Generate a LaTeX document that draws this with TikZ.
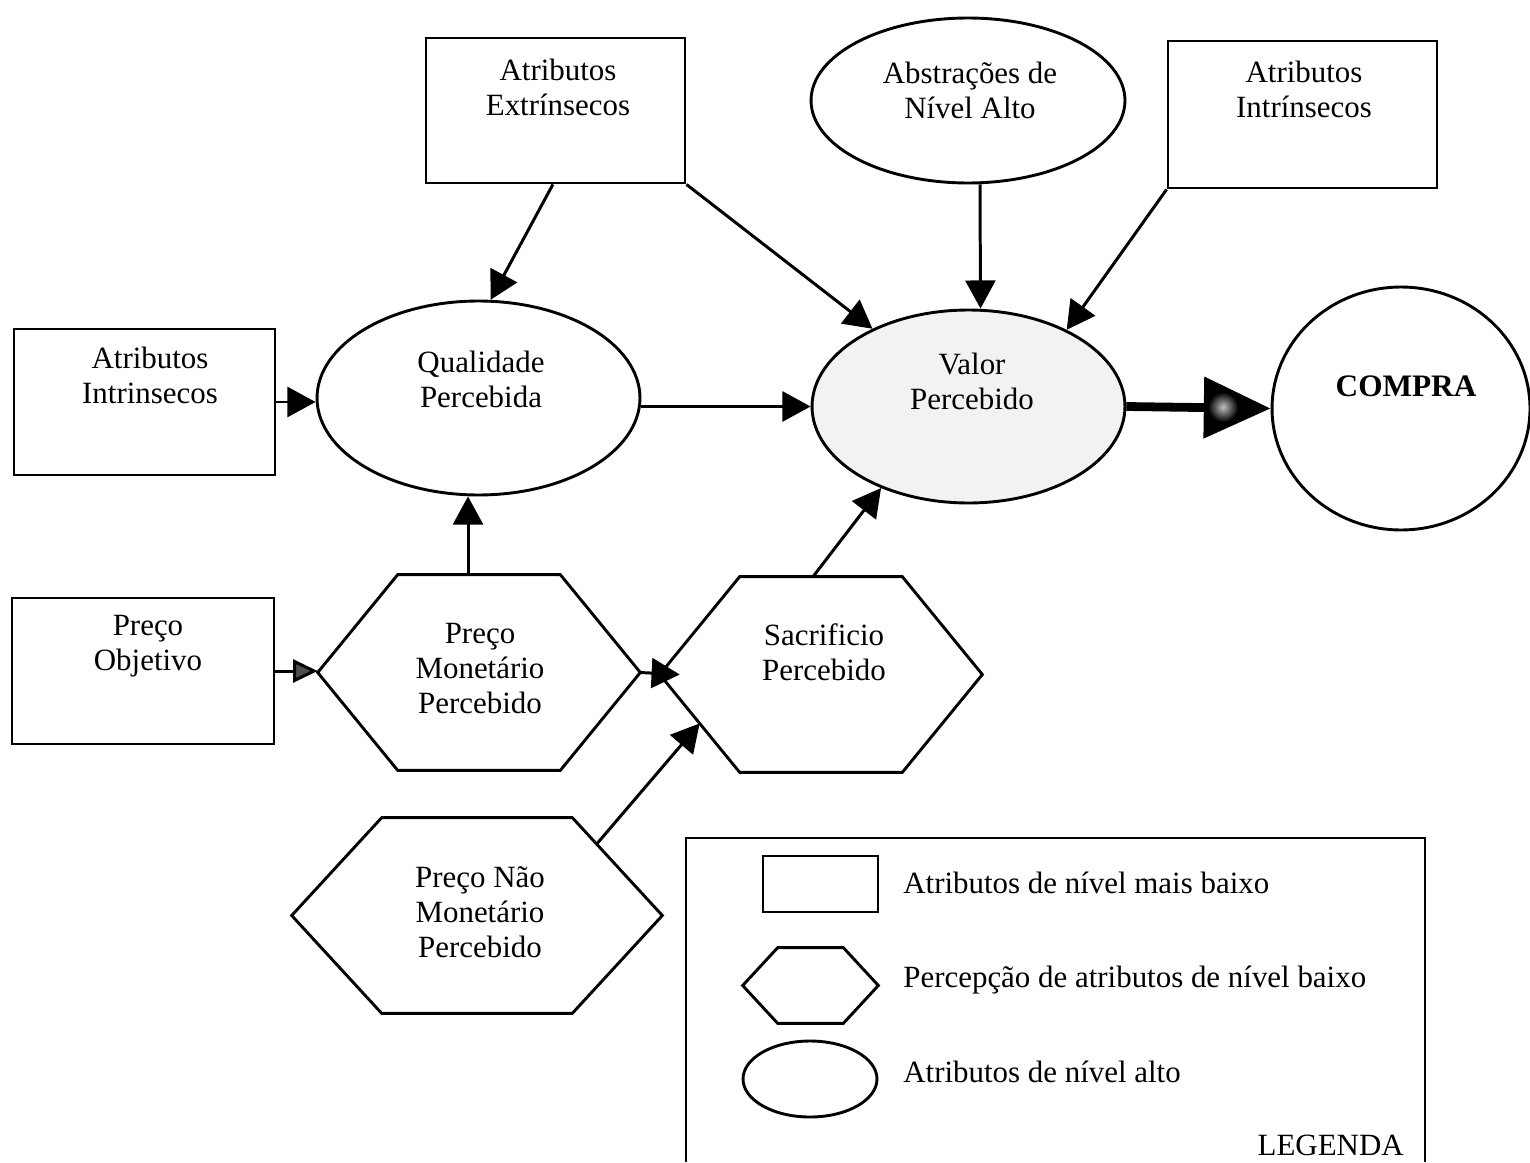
\documentclass[tikz,border=0pt]{standalone}
\usepackage{fontspec}
\setmainfont{Liberation Serif}
\usetikzlibrary{arrows.meta,shapes.geometric,calc}

% outline of a flattened hexagon drawn over an invisible rectangular node
\newcommand\hexoutline[2]{%
  \draw[shapeline] (#1.west) -- ([xshift=#2]#1.north west) -- ([xshift=-#2]#1.north east)
    -- (#1.east) -- ([xshift=-#2]#1.south east) -- ([xshift=#2]#1.south west) -- cycle;}

\begin{document}
\begin{tikzpicture}[x=0.02cm,y=-0.02cm,
  lbl/.style={font=\fontsize{17.6}{19.9}\selectfont, align=center, inner sep=0pt},
  shapeline/.style={line width=1.65pt, line join=miter},
  boxnode/.style={draw, shapeline, rectangle, inner sep=0pt},
  ovalnode/.style={draw, shapeline, ellipse, inner sep=0pt},
  hexarea/.style={rectangle, inner sep=0pt},
  link/.style={line width=1.7pt, -{Triangle[length=16pt,width=17pt]}},
  pricelink/.style={line width=1.7pt, -{Triangle[length=14pt,width=13pt,fill=black!70]}},
  buylink/.style={line width=5pt, -{Triangle[length=38pt,width=34pt]}}
]
\useasboundingbox (0,0) rectangle (1530,1162);

% ---------- lower-level attributes (boxes) ----------
\node[boxnode, minimum width=5.18cm, minimum height=2.9cm]  (ext) at (555.5,110.5) {};
\node[boxnode, minimum width=5.38cm, minimum height=2.94cm] (itr) at (1302.5,114.5) {};
\node[boxnode, minimum width=5.22cm, minimum height=2.92cm] (il)  at (144.5,402) {};
\node[boxnode, minimum width=5.24cm, minimum height=2.92cm] (po)  at (143,671) {};

% ---------- high-level attributes (ellipses) ----------
\node[ovalnode, minimum width=6.28cm, minimum height=3.3cm]  (abs)  at (968,100.5) {};
\node[ovalnode, minimum width=6.46cm, minimum height=3.88cm] (qual) at (478.5,398) {};
\node[ovalnode, fill=gray!10, minimum width=6.26cm, minimum height=3.86cm] (val) at (968.5,406.5) {};
\node[ovalnode, minimum width=5.16cm, minimum height=4.86cm] (compra) at (1401,408.5) {};

% ---------- perceptions (hexagons) ----------
\node[hexarea, minimum width=6.44cm, minimum height=3.9cm] (pm)  at (479,672.5) {};
\node[hexarea, minimum width=6.44cm, minimum height=3.9cm] (sac) at (821,674.5) {};
\node[hexarea, minimum width=7.4cm,  minimum height=3.9cm] (pnm) at (477,915.5) {};
\hexoutline{pm}{1.6cm}
\hexoutline{sac}{1.6cm}
\hexoutline{pnm}{1.8cm}

% ---------- labels ----------
\node[lbl] (ext-t)  at (558,87)     {Atributos\\Extrínsecos};
\node[lbl] (itr-t)  at (1304,89)    {Atributos\\Intrínsecos};
\node[lbl] (il-t)   at (150,375.5)  {Atributos\\Intrinsecos};
\node[lbl] (po-t)   at (148,646)    {Preço\\Objetivo};
\node[lbl] (abs-t)  at (970,90.5)   {Abstrações de\\Nível Alto};
\node[lbl] (qual-t) at (481,379)    {Qualidade\\Percebida};
\node[lbl] (val-t)  at (972,381.5)  {Valor\\Percebido};
\node[lbl, font=\fontsize{17.8}{20}\selectfont\bfseries] (compra-t) at (1406,386) {COMPRA};
\node[lbl] (pm-t)   at (480,668.5)  {Preço\\Monetário\\Percebido};
\node[lbl] (sac-t)  at (824,652.5)  {Sacrif\kern0pt icio\\Percebido};
\node[lbl] (pnm-t)  at (480,912.5)  {Preço Não\\Monetário\\Percebido};

% ---------- connectors ----------
\coordinate (extout) at ($(ext.south west)!0.49!(ext.south east)$);
\draw[link] (extout) -- (qual.83);
\draw[link] (ext.south east) -- (val.141);
\draw[link] ([xshift=0.24cm]abs.south) -- ([xshift=0.24cm]val.north);
\draw[link] (itr.south west) -- (val.38);
\draw[link] (il.east) -- (il.east -| qual.west);
\draw[link] (qual.east |- val.west) -- (val.west);
\coordinate (pmtop) at ([xshift=-0.22cm]pm.north);
\draw[link] (pmtop) -- (pmtop |- qual.south);
\draw[pricelink] (po.east) -- (po.east -| pm.west);
\draw[link] (pm.east) -- ([xshift=0.4cm]sac.west);
\coordinate (pnmout) at ($([xshift=-1.8cm]pnm.north east)!0.27!(pnm.east)$);
\coordinate (sacin) at ($(sac.west)!0.5!([xshift=1.6cm]sac.south west)$);
\draw[link] (pnmout) -- (sacin);
\draw[link] ([xshift=-0.16cm]sac.north) -- (val.223);
\draw[buylink] (val.east) -- (compra.west);
\shade[inner color=gray!50, outer color=black] (1223,407) circle (0.3cm);

% ---------- legend ----------
\draw[shapeline] (686,1162) -- (686,838) -- (1425,838) -- (1425,1162);
\node[boxnode, minimum width=2.3cm, minimum height=1.12cm] (lg-box) at (820.5,884) {};
\node[hexarea, minimum width=2.7cm, minimum height=1.5cm] (lg-hex) at (810.5,985.5) {};
\hexoutline{lg-hex}{0.7cm}
\node[ovalnode, minimum width=2.68cm, minimum height=1.52cm] (lg-oval) at (810,1079) {};
\node[lbl, anchor=west] (lg-box-t)  at (903,883)  {Atributos de nível mais baixo};
\node[lbl, anchor=west] (lg-hex-t)  at (903,980)  {Percepção de atributos de nível baixo};
\node[lbl, anchor=west] (lg-oval-t) at (903,1072) {Atributos de nível alto};
\node[lbl, anchor=east] (lg-title)  at (1404,1145) {LEGENDA};
\end{tikzpicture}
\end{document}
